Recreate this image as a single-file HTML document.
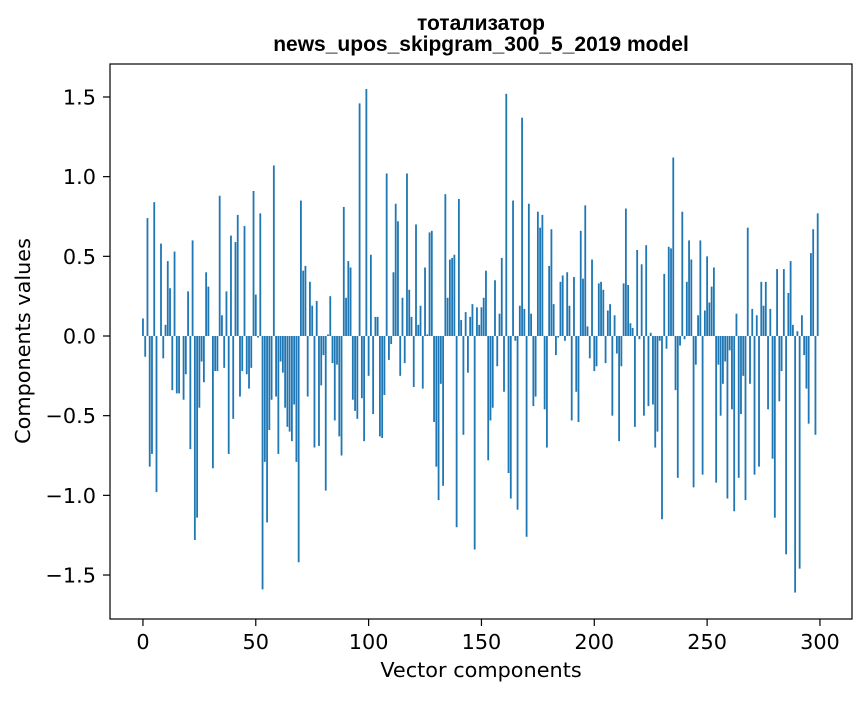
<!DOCTYPE html>
<html><head><meta charset="utf-8"><style>
body{margin:0;background:#fff;}
svg text{font-family:"DejaVu Sans",sans-serif;fill:#000;}
svg text.title{font-family:"Liberation Sans","DejaVu Sans",sans-serif;}
</style></head><body>
<svg width="867" height="696" xmlns="http://www.w3.org/2000/svg">
<text class="title" x="481" y="30" text-anchor="middle" font-size="21" font-weight="bold">тотализатор</text>
<text class="title" x="481" y="51" text-anchor="middle" font-size="21" font-weight="bold">news_upos_skipgram_300_5_2019 model</text>
<g id="bars"></g>
<rect x="110" y="64" width="742" height="555" fill="none" stroke="#000" stroke-width="1.2"/>
<g id="xt"></g>
<g id="yt"></g>
<text x="481" y="677" text-anchor="middle" font-size="20.8">Vector components</text>
<text x="0" y="0" transform="translate(30,341) rotate(-90)" text-anchor="middle" font-size="20.8">Components values</text>
</svg>
<script>
const values=[0.11,-0.13,0.74,-0.82,-0.74,0.84,-0.98,0.0,0.58,-0.14,0.07,0.47,0.30,-0.34,0.53,-0.36,-0.36,0.0,-0.40,-0.24,0.28,-0.71,0.60,-1.28,-1.14,-0.45,-0.16,-0.29,0.40,0.31,0.0,-0.83,-0.22,-0.22,0.88,0.13,-0.20,0.28,-0.74,0.63,-0.52,0.59,0.76,-0.38,-0.22,0.69,-0.24,-0.33,-0.20,0.91,0.26,-0.01,0.77,
-1.59,-0.79,-1.17,-0.59,-0.40,
1.07,-0.38,-0.74,-0.16,-0.23,-0.45,-0.57,-0.60,-0.66,-0.43,-0.79,-1.42,0.85,0.41,0.44,-0.38,0.34,0.19,-0.70,0.22,-0.69,-0.31,-0.12,-0.97,0.01,0.25,-0.17,-0.53,-0.18,-0.63,-0.75,0.81,0.24,0.47,0.43,-0.40,-0.47,-0.52,1.46,-0.39,-0.66,1.55,-0.25,0.51,-0.49,0.12,0.12,-0.63,-0.64,-0.37,1.02,-0.15,-0.05,0.40,0.83,0.72,-0.25,0.24,-0.17,1.02,0.29,0.12,
-0.32,0.70,0.07,0.19,-0.33,0.43,0.01,0.65,0.66,-0.54,-0.82,-1.03,-0.30,-0.94,0.89,0.24,0.48,0.49,0.51,-1.20,0.86,0.10,-0.62,0.15,-0.23,0.12,0.20,-1.34,0.18,0.07,0.18,0.24,0.41,-0.78,-0.53,-0.45,0.35,-0.19,0.14,0.49,-0.35,1.52,-0.86,-1.02,0.85,-0.03,-1.09,0.19,1.37,0.17,-1.26,0.83,0.14,-0.44,-0.38,0.78,0.68,0.76,
-0.46,-0.70,0.44,0.67,0.20,-0.12,-0.01,0.34,0.38,-0.03,0.40,0.19,-0.53,0.37,-0.35,-0.54,0.66,0.36,0.82,0.06,-0.14,0.48,-0.22,-0.19,0.33,0.34,0.29,-0.17,0.16,0.20,-0.50,0.13,-0.11,-0.66,-0.19,0.33,0.80,0.32,0.08,0.05,-0.57,0.54,-0.02,0.45,-0.50,0.57,-0.44,0.02,-0.43,-0.70,-0.60,-0.03,-1.15,0.39,-0.08,0.56,0.55,1.12,-0.34,-0.89,-0.06,0.78,
-0.02,0.34,0.60,0.48,-0.95,-0.18,0.13,0.60,-0.87,0.16,0.50,0.21,0.31,0.43,-0.92,-0.18,-0.50,-0.30,-0.16,-1.02,-0.09,-0.46,-1.10,0.14,-0.89,-0.49,-0.25,-1.03,0.68,-0.30,0.17,-0.87,0.13,-0.82,0.34,0.19,0.34,-0.46,0.17,-0.77,-1.14,0.42,-0.41,-0.22,0.42,-1.37,0.27,0.47,0.07,-1.61,0.03,-1.46,0.13,-0.12,-0.33,-0.55,0.52,0.67,-0.62,0.77];
const xTicks=[0,50,100,150,200,250,300];
const yTicks=[-1.5,-1.0,-0.5,0.0,0.5,1.0,1.5];
const yTickLabels=["−1.5","−1.0","−0.5","0.0","0.5","1.0","1.5"];
const NS="http://www.w3.org/2000/svg";
const X0=110,X1=852,Y0=64,Y1=619;
const xmin=-14.6,xmax=314.2,ymin=-1.776,ymax=1.707;
const xs=v=>X0+(v-xmin)/(xmax-xmin)*(X1-X0);
const ys=v=>Y1-(v-ymin)/(ymax-ymin)*(Y1-Y0);
const bars=document.getElementById('bars');
values.forEach((v,i)=>{
  const r=document.createElementNS(NS,'rect');
  const a=xs(i-0.4),b=xs(i+0.4);
  const y=Math.min(ys(v),ys(0)),h=Math.abs(ys(v)-ys(0));
  r.setAttribute('x',a);r.setAttribute('width',b-a);
  r.setAttribute('y',y);r.setAttribute('height',h);
  r.setAttribute('fill','#1f77b4');
  
  
  bars.appendChild(r);
});
const xt=document.getElementById('xt');
xTicks.forEach(t=>{
  const l=document.createElementNS(NS,'line');
  l.setAttribute('x1',xs(t));l.setAttribute('x2',xs(t));l.setAttribute('y1',Y1);l.setAttribute('y2',Y1+7);l.setAttribute('stroke','#000');l.setAttribute('stroke-width','1.2');
  
  
  xt.appendChild(l);
  const tx=document.createElementNS(NS,'text');
  tx.setAttribute('x',xs(t));tx.setAttribute('y',649);tx.setAttribute('text-anchor','middle');tx.setAttribute('font-size','20.8');
  tx.textContent=t;
  
  
  xt.appendChild(tx);
});
const yt=document.getElementById('yt');
yTicks.forEach((t,i)=>{
  const l=document.createElementNS(NS,'line');
  l.setAttribute('x1',X0-7);l.setAttribute('x2',X0);l.setAttribute('y1',ys(t));l.setAttribute('y2',ys(t));l.setAttribute('stroke','#000');l.setAttribute('stroke-width','1.2');
  
  
  yt.appendChild(l);
  const tx=document.createElementNS(NS,'text');
  tx.setAttribute('x',X0-14);tx.setAttribute('y',ys(t)+7.5);tx.setAttribute('text-anchor','end');tx.setAttribute('font-size','20.8');
  tx.textContent=yTickLabels[i];
  
  
  yt.appendChild(tx);
});
</script>
</body></html>
